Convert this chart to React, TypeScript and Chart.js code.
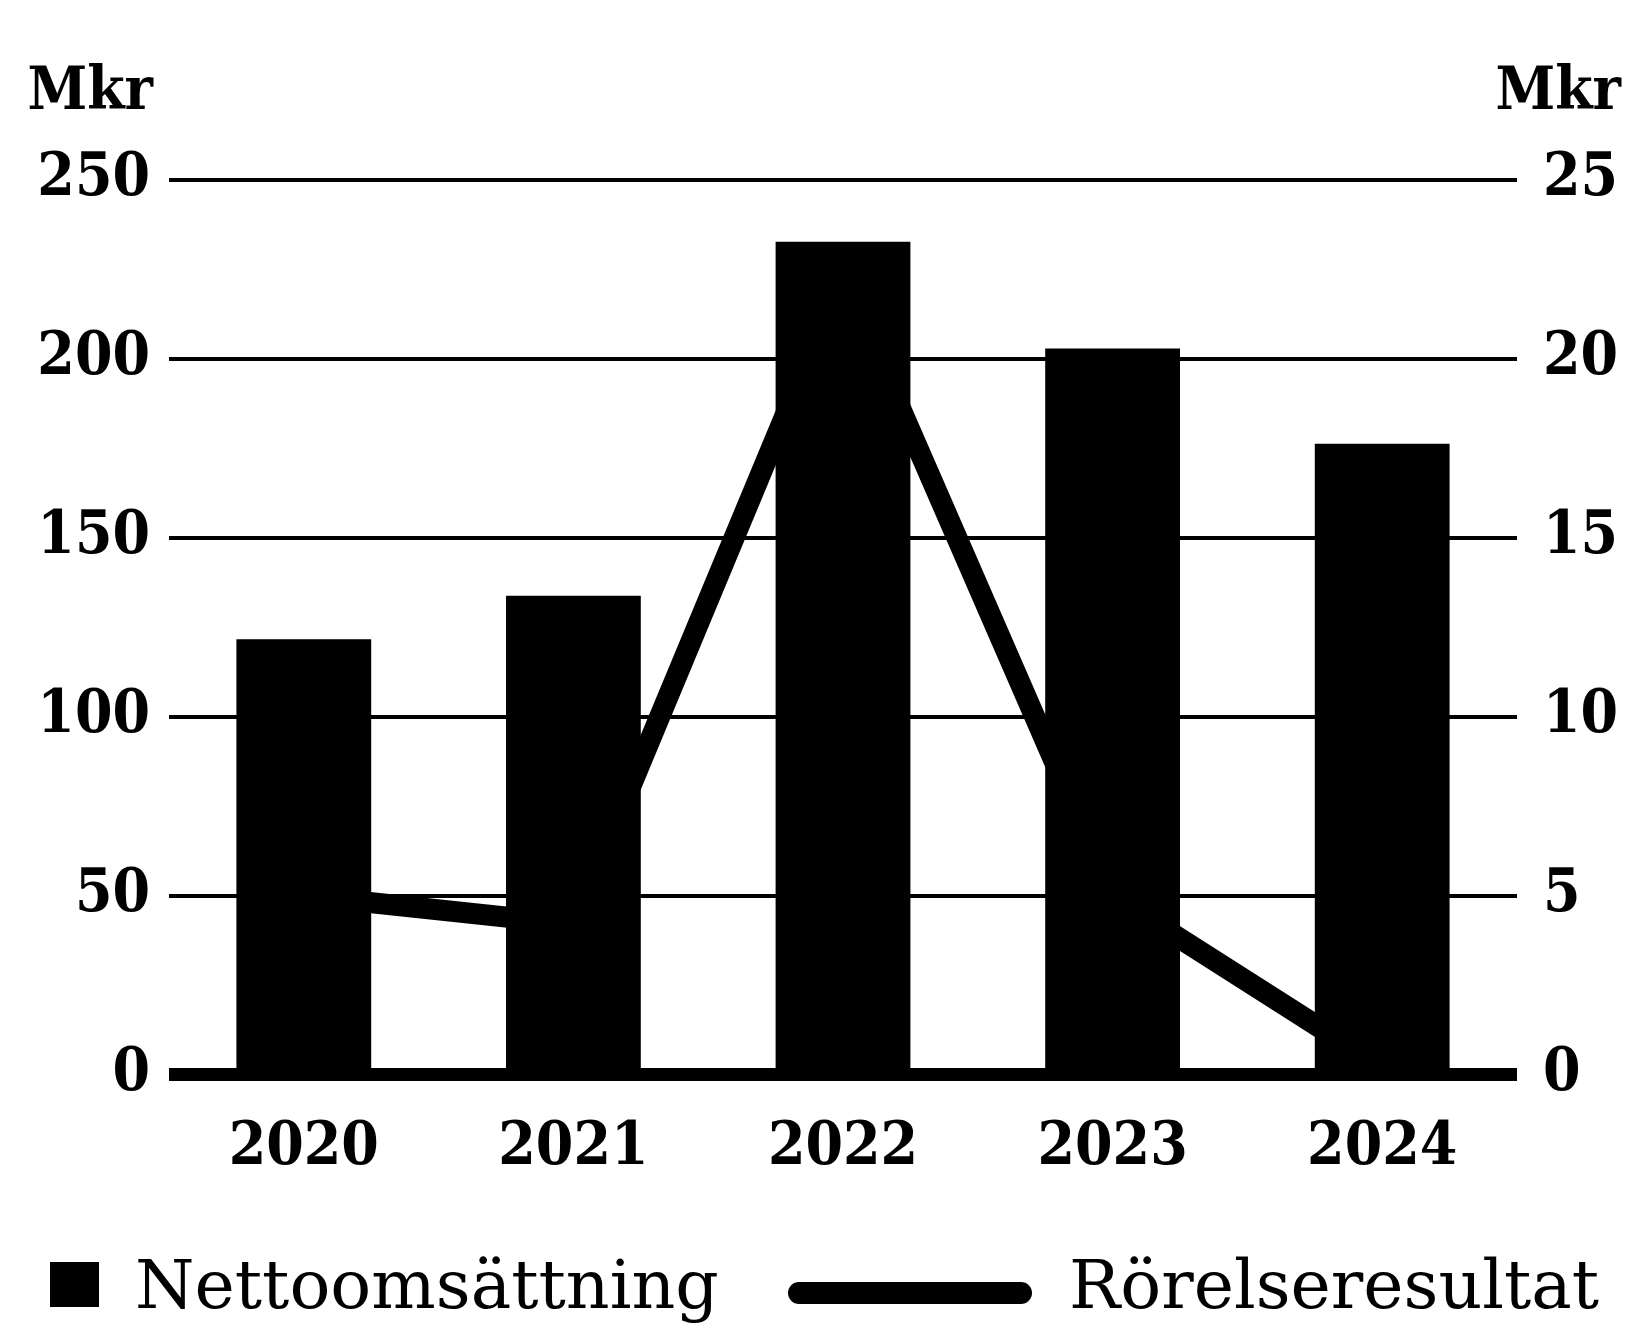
import React, { useEffect, useRef } from "react";
import { Chart, registerables } from "chart.js";

Chart.register(...registerables);

const years = ["2020", "2021", "2022", "2023", "2024"];
const netSales = [121.6, 133.7, 232.6, 202.8, 176.2];
const operatingResult = [5.0, 4.2, 22.3, 5.0, 0.2];
const leftTicks = [0, 50, 100, 150, 200, 250];
const rightTicks = [0, 5, 10, 15, 20, 25];
const unitLabel = "Mkr";
const seriesNames = ["Nettoomsättning", "Rörelseresultat"];

const W = 1627;
const H = 1325;
const FAMILY = "'DejaVu Serif Condensed', 'DejaVu Serif', serif";
const LEGEND_FAMILY = "'DejaVu Serif', serif";

const overlayPlugin = {
  id: "overlay",
  afterDraw(chart: any) {
    const ctx = chart.ctx as CanvasRenderingContext2D;
    ctx.save();
    ctx.fillStyle = "#000";
    ctx.strokeStyle = "#000";
    // unit titles
    ctx.font = `bold 60px ${FAMILY}`;
    ctx.textBaseline = "alphabetic";
    ctx.textAlign = "right";
    ctx.fillText(unitLabel, 153, 109);
    ctx.fillText(unitLabel, 1621, 109);

    // legend
    const ds = chart.data.datasets;
    ctx.font = `68px ${LEGEND_FAMILY}`;
    ctx.textAlign = "left";
    ctx.fillStyle = ds[0].backgroundColor;
    ctx.fillRect(50, 1262, 49, 45);
    ctx.fillStyle = "#000";
    ctx.fillText(ds[0].label, 135, 1308);

    ctx.lineWidth = 22;
    ctx.lineCap = "round";
    ctx.strokeStyle = ds[1].borderColor;
    ctx.beginPath();
    ctx.moveTo(799, 1293);
    ctx.lineTo(1021, 1293);
    ctx.stroke();
    ctx.fillText(ds[1].label, 1069, 1308);
    ctx.restore();
  },
};

export default function App() {
  const ref = useRef<HTMLCanvasElement | null>(null);

  useEffect(() => {
    document.body.style.margin = "0";
    const canvas = ref.current;
    if (!canvas) return;
    const chart = new Chart(canvas, {
      type: "bar",
      data: {
        labels: years,
        datasets: [
          {
            type: "bar",
            label: seriesNames[0],
            data: netSales,
            backgroundColor: "#000",
            borderWidth: 0,
            barPercentage: 0.5,
            categoryPercentage: 1.0,
            yAxisID: "y",
            order: 1,
          },
          {
            type: "line",
            label: seriesNames[1],
            data: operatingResult,
            borderColor: "#000",
            backgroundColor: "#000",
            borderWidth: 21,
            pointRadius: 0,
            tension: 0,
            fill: false,
            yAxisID: "y1",
            order: 2,
          },
        ] as any,
      },
      options: {
        responsive: false,
        animation: false,
        maintainAspectRatio: false,
        layout: { padding: { top: 179.5, bottom: 150.5, left: 0, right: 0 } },
        plugins: {
          legend: { display: false },
          tooltip: { enabled: false },
        },
        scales: {
          x: {
            grid: { display: false },
            border: { display: false },
            ticks: {
              color: "#000",
              font: { family: FAMILY, size: 60, weight: "bold" },
              padding: 30,
              maxRotation: 0,
            },
            afterFit: (s: any) => {
              s.height = 100;
            },
          },
          y: {
            position: "left",
            min: 0,
            max: 250,
            afterBuildTicks: (s: any) => {
              s.ticks = leftTicks.map((v) => ({ value: v }));
            },
            grid: {
              color: "#000",
              lineWidth: (c: any) => (c.tick && c.tick.value === 0 ? 13 : 4),
              drawTicks: false,
            },
            border: { display: false },
            ticks: {
              color: "#000",
              font: { family: FAMILY, size: 60, weight: "bold" },
              padding: 19,
            },
            afterFit: (s: any) => {
              s.width = 169;
            },
          },
          y1: {
            position: "right",
            min: 0,
            max: 25,
            afterBuildTicks: (s: any) => {
              s.ticks = rightTicks.map((v) => ({ value: v }));
            },
            grid: { drawOnChartArea: false, drawTicks: false },
            border: { display: false },
            ticks: {
              color: "#000",
              font: { family: FAMILY, size: 60, weight: "bold" },
              padding: 26,
            },
            afterFit: (s: any) => {
              s.width = 110;
            },
          },
        },
      } as any,
      plugins: [overlayPlugin],
    });
    return () => chart.destroy();
  }, []);

  return (
    <div style={{ width: W, height: H, background: "#fff" }}>
      <canvas ref={ref} width={W} height={H} style={{ display: "block", width: W, height: H }} />
    </div>
  );
}
